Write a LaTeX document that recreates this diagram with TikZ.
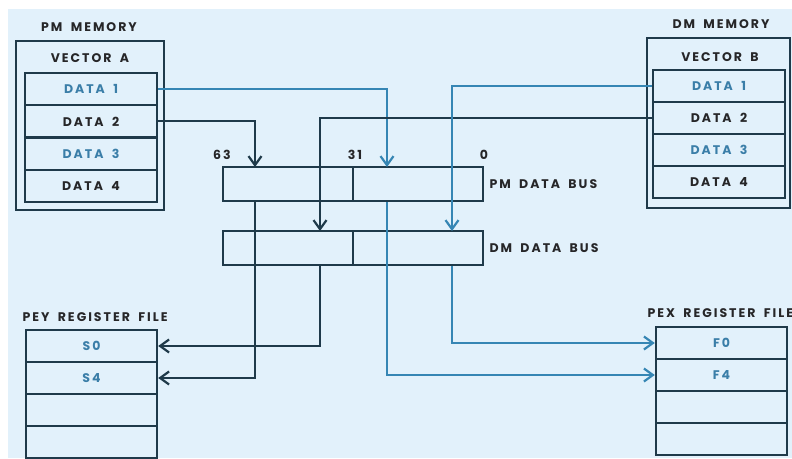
\documentclass[tikz,border=0pt]{standalone}
\usepackage{fontspec}
\setmainfont{Poppins}[LetterSpace=16, WordSpace=1.8]
\usepackage{tikz}
\usetikzlibrary{arrows.meta}
\definecolor{bgBlue}{RGB}{226,241,251}
\definecolor{darkLine}{RGB}{31,58,74}
\definecolor{blueLine}{RGB}{54,134,180}
\definecolor{darkText}{RGB}{38,38,40}
\definecolor{blueText}{RGB}{58,126,168}

\begin{document}
\begin{tikzpicture}[x=1pt, y=-1pt, >={Straight Barb[length=9pt,width=13pt,line width=2.2pt]},
        every node/.style={font=\bfseries\fontsize{12.5}{14}\selectfont, text=darkText}]
    \tikzstyle{boxStyle} = [draw=darkLine, line width=2.4pt, inner sep=0pt]
    \tikzstyle{cellStyle} = [boxStyle, minimum width=132pt, minimum height=32.25pt]
    \tikzstyle{busStyle} = [boxStyle, minimum width=130pt, minimum height=34pt]
    \tikzstyle{darkEdge} = [draw=darkLine, line width=1.8pt]
    \tikzstyle{blueEdge} = [draw=blueLine, line width=1.8pt]
    \useasboundingbox (0,0) rectangle (792,458);
    \fill[white] (0,0) rectangle (792,458);
    \fill[bgBlue] (8,9) rectangle (792,458);

    \node (pmLabel) at (89,27) {PM MEMORY};
    \node[boxStyle, minimum width=148pt, minimum height=169pt] (pmBox) at (90,125.5) {};
    \node (vecA) at (90,58) {VECTOR A};
    \foreach \i/\c in {1/blueText,2/darkText,3/blueText,4/darkText}
        \node[cellStyle, text=\c] (pa\i) at (91,73+32.25*\i-16.125) {DATA \i};

    \node (dmLabel) at (721,24) {DM MEMORY};
    \node[boxStyle, minimum width=143pt, minimum height=170pt] (dmBox) at (718.5,123) {};
    \node (vecB) at (720,57) {VECTOR B};
    \foreach \i/\c in {1/blueText,2/darkText,3/blueText,4/darkText}
        \node[cellStyle, text=\c] (db\i) at (719,70+32*\i-16) {DATA \i};

    \node[busStyle] (pmHi) at (288,184) {};
    \node[busStyle] (pmLo) at (418,184) {};
    \node[busStyle] (dmHi) at (288,248) {};
    \node[busStyle] (dmLo) at (418,248) {};
    \node (bit63) at (222,155) {63};
    \node (bit31) at (355,155) {31};
    \node (bit0) at (484,155) {0};
    \node[anchor=west] (pmBusLabel) at (486,184) {PM DATA BUS};
    \node[anchor=west] (dmBusLabel) at (486,248) {DM DATA BUS};

    \node[anchor=west] (peyLabel) at (19,317) {PEY REGISTER FILE};
    \foreach \i/\t in {1/S0,2/S4,3/,4/}
        \node[cellStyle, minimum width=131pt, minimum height=32pt, text=blueText] (py\i) at (91.5,314+32*\i) {\t};
    \node[anchor=west] (pexLabel) at (644,313) {PEX REGISTER FILE};
    \foreach \i/\t in {1/F0,2/F4,3/,4/}
        \node[cellStyle, minimum width=131pt, minimum height=32pt, text=blueText] (px\i) at (721.5,311+32*\i) {\t};

    \coordinate (pmA) at (255,167);
    \coordinate (pmB) at (387,167);
    \coordinate (dmA) at (320,231);
    \coordinate (dmB) at (452,231);
    \path[darkEdge, ->] (pa2.east) -| (pmA);
    \path[blueEdge, ->] (pa1.east) -| (pmB);
    \path[darkEdge, ->] (db2.west) -| (dmA);
    \path[blueEdge, ->] (db1.west) -| (dmB);
    \path[darkEdge, ->] (pmA |- pmHi.south) |- (py2.east);
    \path[darkEdge, ->] (dmA |- dmHi.south) |- (py1.east);
    \path[blueEdge, ->] (pmB |- pmLo.south) |- (px2.west);
    \path[blueEdge, ->] (dmB |- dmLo.south) |- (px1.west);
\end{tikzpicture}
\end{document}
